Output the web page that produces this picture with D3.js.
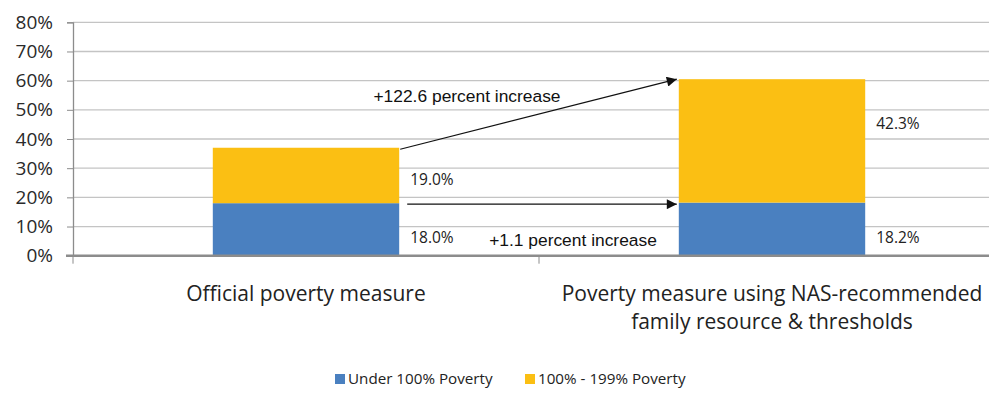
<!DOCTYPE html>
<html>
<head>
<meta charset="utf-8">
<script src="https://cdn.jsdelivr.net/npm/d3@7"></script>
<style>
  body { margin: 0; background: #fff; }
  svg { display: block; }
</style>
</head>
<body>
<svg id="chart" width="989" height="404"></svg>
<script>
// Poverty rate by measure, stacked: under 100% and 100%-199% of poverty line
const categories = [
  "Official poverty measure",
  "Poverty measure using NAS-recommended\nfamily resource & thresholds"
];
const seriesNames = ["Under 100% Poverty", "100% - 199% Poverty"];
const under100 = [18.0, 18.2];
const from100to199 = [19.0, 42.3];
const yTicks = [0, 10, 20, 30, 40, 50, 60, 70, 80];
const arrowNotes = ["+122.6 percent increase", "+1.1 percent increase"];
const colors = ["#4A80C0", "#FBBF13"];

const svg = d3.select("#chart");
const plotLeft = 73, plotRight = 1005, plotTop = 22.3, plotBottom = 255.7;

const x = d3.scaleBand().domain(d3.range(categories.length)).range([plotLeft, plotRight]).paddingInner(0.6).paddingOuter(0.3);
const y = d3.scaleLinear().domain([0, 80]).range([plotBottom, plotTop]);

const labelFont = "'Open Sans', 'DejaVu Sans', sans-serif";

// gridlines
svg.append("g").selectAll("line").data(yTicks.filter(d => d > 0)).join("line")
  .attr("x1", plotLeft).attr("x2", 989)
  .attr("y1", d => y(d)).attr("y2", d => y(d))
  .attr("stroke", "#c4c4c4").attr("stroke-width", 1.3);

// y axis
const yAxis = svg.append("g").attr("transform", `translate(${plotLeft},0)`)
  .call(d3.axisLeft(y).tickValues(yTicks).tickFormat(d => d + "%").tickSize(6).tickPadding(14));
yAxis.select(".domain").attr("stroke", "#8c8c8c").attr("stroke-width", 1.3);
yAxis.selectAll(".tick line").attr("stroke", "#8c8c8c");
yAxis.selectAll("text").attr("font-family", labelFont).attr("font-size", 19).attr("fill", "#2a2a2a");

// stacked data
const rows = categories.map((c, i) => ({ i, under: under100[i], mid: from100to199[i] }));
const stack = d3.stack().keys(["under", "mid"])(rows);

svg.append("g").selectAll("g").data(stack).join("g")
  .attr("fill", (d, k) => colors[k])
  .selectAll("rect").data(d => d).join("rect")
  .attr("x", d => x(d.data.i))
  .attr("width", x.bandwidth())
  .attr("y", d => y(d[1]))
  .attr("height", d => y(d[0]) - y(d[1]));

// x axis
const xAxisG = svg.append("g").attr("transform", `translate(0,${plotBottom})`);
xAxisG.append("line").attr("x1", 66).attr("x2", 989).attr("y1", 0).attr("y2", 0)
  .attr("stroke", "#8c8c8c").attr("stroke-width", 2.5);
xAxisG.selectAll("line.tick").data([plotLeft, (x(0) + x.bandwidth() + x(1)) / 2]).join("line")
  .attr("class", "tick")
  .attr("x1", d => d).attr("x2", d => d).attr("y1", 0).attr("y2", 8)
  .attr("stroke", "#8c8c8c").attr("stroke-width", 1);

// category labels
categories.forEach((c, i) => {
  const cx = x(i) + x.bandwidth() / 2;
  const t = svg.append("text")
    .attr("x", cx).attr("y", 301)
    .attr("text-anchor", "middle").attr("font-family", labelFont)
    .attr("font-size", 21).attr("fill", "#222");
  c.split("\n").forEach((line, j) => {
    t.append("tspan").attr("x", cx).attr("dy", j === 0 ? 0 : 28).text(line);
  });
});

// value labels, to the right of each segment
const labelShift = [[14, 14], [10, -12]]; // [series][category] baseline shift from segment middle
stack.forEach((s, k) => {
  s.forEach((d, i) => {
    const value = k === 0 ? under100[i] : from100to199[i];
    svg.append("text")
      .attr("x", x(i) + x.bandwidth() + 11)
      .attr("y", (y(d[0]) + y(d[1])) / 2 + labelShift[k][i])
      .attr("font-family", labelFont).attr("font-size", 15.5).attr("fill", "#222")
      .text(value.toFixed(1) + "%");
  });
});

// arrows showing change between measures
svg.append("defs").append("marker").attr("id", "arrowhead")
  .attr("viewBox", "0 0 10 10").attr("refX", 10).attr("refY", 5)
  .attr("markerWidth", 17).attr("markerHeight", 10).attr("markerUnits", "userSpaceOnUse")
  .attr("orient", "auto")
  .append("path").attr("d", "M0,0 L10,5 L0,10 Z").attr("fill", "#111");

const x0End = x(0) + x.bandwidth();
const x1Start = x(1);
const totals = under100.map((v, i) => v + from100to199[i]);

svg.append("line")
  .attr("x1", x0End + 1).attr("y1", y(totals[0]) + 1.5)
  .attr("x2", x1Start - 2).attr("y2", y(totals[1]))
  .attr("stroke", "#111").attr("stroke-width", 1.2).attr("marker-end", "url(#arrowhead)");
svg.append("line")
  .attr("x1", x0End + 8).attr("y1", y(under100[0]) + 1)
  .attr("x2", x1Start - 2).attr("y2", y(under100[0]) + 1)
  .attr("stroke", "#111").attr("stroke-width", 1.2).attr("marker-end", "url(#arrowhead)");

const noteFont = "'Liberation Sans', Arial, sans-serif";
svg.append("text").attr("x", 467).attr("y", 102).attr("text-anchor", "middle")
  .attr("font-family", noteFont).attr("font-size", 17.4).attr("fill", "#111").text(arrowNotes[0]);
svg.append("text").attr("x", 573).attr("y", 246).attr("text-anchor", "middle")
  .attr("font-family", noteFont).attr("font-size", 17.4).attr("fill", "#111").text(arrowNotes[1]);

// legend
const legendX = [335, 525];
seriesNames.forEach((name, k) => {
  const g = svg.append("g").attr("transform", `translate(${legendX[k]},374)`);
  g.append("rect").attr("width", 10).attr("height", 10).attr("fill", colors[k]);
  g.append("text").attr("x", 13).attr("y", 10).attr("font-family", labelFont)
    .attr("font-size", 15.2).attr("fill", "#222").text(name);
});
</script>
</body>
</html>
